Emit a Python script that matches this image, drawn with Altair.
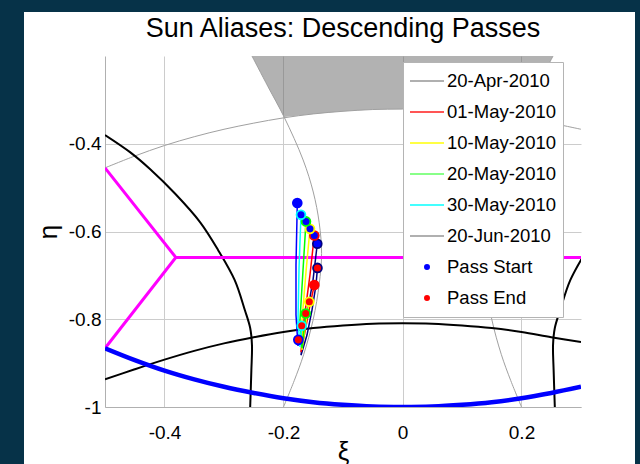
import altair as alt
import pandas as pd

TITLE = "Sun Aliases: Descending Passes"
FONT = "Liberation Sans"

# Axis frame (direction cosines xi / eta)
XI_DOMAIN = [-0.5, 0.3]
ETA_DOMAIN = [-1.0, -0.2]
XI_TICKS = [-0.4, -0.2, 0, 0.2]
ETA_TICKS = [-1, -0.8, -0.6, -0.4]

# Earth limb (thick blue)
limb_xi = [-0.5, -0.45, -0.4, -0.35, -0.3, -0.25, -0.2, -0.15, -0.1, -0.05, 0.0,
           0.05, 0.1, 0.15, 0.2, 0.25, 0.3]
limb_eta = [-0.866, -0.893, -0.917, -0.937, -0.954, -0.968, -0.980, -0.989, -0.995, -0.999, -1.0,
            -0.999, -0.995, -0.989, -0.980, -0.968, -0.954]

# Lower alias boundary (black)
lower_xi = limb_xi
lower_eta = [-0.937, -0.914, -0.892, -0.872, -0.855, -0.841, -0.829, -0.820, -0.814, -0.810, -0.809,
             -0.810, -0.814, -0.820, -0.829, -0.841, -0.852]

# Upper thin grey boundary
upper_xi = limb_xi
upper_eta = [-0.455, -0.428, -0.404, -0.384, -0.367, -0.353, -0.341, -0.332, -0.326, -0.322, -0.321,
             -0.322, -0.326, -0.332, -0.341, -0.353, -0.367]

# Side alias boundaries (black)
left_arc_xi = [-0.500, -0.458, -0.424, -0.382, -0.340, -0.310, -0.282, -0.265, -0.256, -0.253, -0.254, -0.256]
left_arc_eta = [-0.380, -0.419, -0.458, -0.514, -0.579, -0.642, -0.711, -0.779, -0.820, -0.859, -0.916, -1.000]
right_arc_xi = [0.340, 0.310, 0.282, 0.265, 0.256, 0.253, 0.254, 0.256]
right_arc_eta = [-0.579, -0.642, -0.711, -0.779, -0.820, -0.859, -0.916, -1.000]

# Thin grey side boundaries
left_thin_xi = [-0.253, -0.226, -0.199, -0.167, -0.150, -0.140, -0.136, -0.140, -0.150, -0.166, -0.182, -0.200]
left_thin_eta = [-0.20, -0.27, -0.339, -0.437, -0.51, -0.58, -0.65, -0.72, -0.80, -0.88, -0.94, -1.00]
right_thin_xi = [0.253, 0.226, 0.199, 0.167, 0.150, 0.140, 0.136, 0.140, 0.150, 0.166, 0.182, 0.200]
right_thin_eta = left_thin_eta

# Shaded sky region at the top
shade_xi = [-0.253, -0.226, -0.199, -0.15, -0.1, -0.05, 0.0, 0.05, 0.1, 0.15, 0.199, 0.226, 0.253]
shade_eta = [-0.20, -0.27, -0.339, -0.332, -0.326, -0.322, -0.321, -0.322, -0.326, -0.332, -0.339, -0.27, -0.20]

# Field-of-view edges (magenta)
fov_chevron_xi = [-0.5, -0.381, -0.5]
fov_chevron_eta = [-0.455, -0.659, -0.866]
fov_flat_xi = [-0.381, 0.3]
fov_flat_eta = [-0.659, -0.659]

# Sun track per pass date
pass_dates = ["20-Apr-2010", "01-May-2010", "10-May-2010", "20-May-2010", "30-May-2010", "20-Jun-2010"]
pass_colors = ["#000080", "#ff0000", "#ffff00", "#00ff00", "#00ffff", "#0000ff"]
track_xi = [
    [-0.1432, -0.1504, -0.1622, -0.1706, -0.1605, -0.1521, -0.1454, -0.1429],
    [-0.1482, -0.1555, -0.1655, -0.1706, -0.1639, -0.1555, -0.1482],
    [-0.1555, -0.1622, -0.1689, -0.1689, -0.1639, -0.1566],
    [-0.1622, -0.1672, -0.1723, -0.1689, -0.1655, -0.1627],
    [-0.1706, -0.1739, -0.1756, -0.1723, -0.1694],
    [-0.1768, -0.1790, -0.1790, -0.1756, -0.1751],
]
track_eta = [
    [-0.628, -0.711, -0.802, -0.882, -0.836, -0.779, -0.722, -0.683],
    [-0.609, -0.699, -0.802, -0.875, -0.829, -0.768, -0.722],
    [-0.594, -0.692, -0.802, -0.870, -0.820, -0.760],
    [-0.577, -0.688, -0.802, -0.866, -0.825, -0.787],
    [-0.562, -0.683, -0.802, -0.863, -0.815],
    [-0.535, -0.677, -0.790, -0.861, -0.847],
]

# Legend entries
legend_labels = pass_dates + ["Pass Start", "Pass End"]
legend_stroke = ["#b0b0b0", "#ff5555", "#ffff44", "#88ff88", "#44ffff", "#b0b0b0", "#0000ff", "#ff0000"]
legend_shapes = ["stroke"] * 6 + ["circle", "circle"]
legend_sizes = [1156] * 6 + [16, 16]


def curve_frame(name, xi, eta):
    return pd.DataFrame({"curve": name, "step": list(range(len(xi))), "xi": xi, "eta": eta})


x_axis = alt.Axis(values=XI_TICKS, labelExpr="toString(datum.value)", title="ξ",
                  ticks=False, tickSize=0, labelPadding=16, labelFontSize=19,
                  titleFontSize=26, titlePadding=-4, labelFlush=False)
y_axis = alt.Axis(values=ETA_TICKS, labelExpr="toString(datum.value)", title="η",
                  ticks=False, tickSize=0, labelPadding=4, labelFontSize=19,
                  titleFontSize=26, titlePadding=7, labelFlush=False)
X = alt.X("xi:Q", scale=alt.Scale(domain=XI_DOMAIN, nice=False, zero=False), axis=x_axis)
Y = alt.Y("eta:Q", scale=alt.Scale(domain=ETA_DOMAIN, nice=False, zero=False), axis=y_axis)

layers = []

# Dark slide frame around the figure panel (pixel offsets from the plot origin)
frame_bands = [(-105, -81, -56, 408), (-105, 535, -56, -44), (530, 535, -56, 408)]
one_row = pd.DataFrame({"k": [0]})
for bx0, bx1, by0, by1 in frame_bands:
    layers.append(
        alt.Chart(one_row).mark_rect(color="#063248").encode(
            x=alt.value(bx0), x2=alt.value(bx1), y=alt.value(by0), y2=alt.value(by1)
        )
    )

shade = pd.DataFrame({"xi": shade_xi, "eta": shade_eta})
layers.append(
    alt.Chart(shade).mark_area(color="#666666", opacity=0.5, clip=True).encode(
        x=X, y=Y, y2=alt.Y2(datum=ETA_DOMAIN[1])
    )
)

thin = pd.concat([
    curve_frame("upper", upper_xi, upper_eta),
    curve_frame("left", left_thin_xi, left_thin_eta),
    curve_frame("right", right_thin_xi, right_thin_eta),
])
layers.append(
    alt.Chart(thin).mark_line(color="#a0a0a0", strokeWidth=1, clip=True, interpolate="catmull-rom").encode(
        x=X, y=Y, detail="curve:N", order="step:Q"
    )
)

black = pd.concat([
    curve_frame("lower", lower_xi, lower_eta),
    curve_frame("left", left_arc_xi, left_arc_eta),
    curve_frame("right", right_arc_xi, right_arc_eta),
])
layers.append(
    alt.Chart(black).mark_line(color="#000000", strokeWidth=2, clip=True, interpolate="catmull-rom").encode(
        x=X, y=Y, detail="curve:N", order="step:Q"
    )
)

fov = pd.concat([
    curve_frame("chevron", fov_chevron_xi, fov_chevron_eta),
    curve_frame("flat", fov_flat_xi, fov_flat_eta),
])
layers.append(
    alt.Chart(fov).mark_line(color="#ff00ff", strokeWidth=3, clip=True).encode(
        x=X, y=Y, detail="curve:N", order="step:Q"
    )
)

limb = curve_frame("limb", limb_xi, limb_eta)
layers.append(
    alt.Chart(limb).mark_line(color="#0000ff", strokeWidth=4.5, clip=True, interpolate="catmull-rom").encode(
        x=X, y=Y, order="step:Q"
    )
)

# Sun tracks
track_rows = []
start_rows = []
end_rows = []
for date, xs, ys in zip(pass_dates, track_xi, track_eta):
    for i, (a, b) in enumerate(zip(xs, ys)):
        track_rows.append({"date": date, "step": i, "xi": a, "eta": b})
    start_rows.append({"date": date, "xi": xs[0], "eta": ys[0]})
    end_rows.append({"date": date, "xi": xs[-1], "eta": ys[-1]})

pass_color = alt.Color("date:N", scale=alt.Scale(domain=pass_dates, range=pass_colors), legend=None)
layers.append(
    alt.Chart(pd.DataFrame(track_rows)).mark_line(strokeWidth=1.5, clip=True).encode(
        x=X, y=Y, color=pass_color, order="step:Q"
    )
)
for rows, face in ((start_rows, "#0000ff"), (end_rows, "#ff0000")):
    layers.append(
        alt.Chart(pd.DataFrame(rows)).mark_point(filled=False, size=78, strokeWidth=1.8,
                                                 opacity=1, clip=True).encode(
            x=X, y=Y, color=pass_color, fill=alt.value(face)
        )
    )

# Legend carrier: entries only, no positions to draw
leg = alt.Legend(title=None, orient="none", legendX=298, legendY=6)
legend_df = pd.DataFrame({"label": legend_labels, "xi": [None] * 8, "eta": [None] * 8})
layers.append(
    alt.Chart(legend_df).mark_point(filled=True, opacity=1).encode(
        x=X, y=Y,
        fill=alt.Fill("label:N", scale=alt.Scale(domain=legend_labels, range=legend_stroke), legend=leg),
        stroke=alt.Stroke("label:N", scale=alt.Scale(domain=legend_labels, range=legend_stroke), legend=leg),
        shape=alt.Shape("label:N", scale=alt.Scale(domain=legend_labels, range=legend_shapes), legend=leg),
        size=alt.Size("label:N", scale=alt.Scale(type="ordinal", domain=legend_labels, range=legend_sizes), legend=leg),
    )
)

chart = (
    alt.layer(*layers)
    .properties(
        width=476, height=351,
        title=alt.TitleParams(TITLE, fontSize=27, font=FONT, fontWeight="normal",
                              color="#000000", anchor="middle", frame="group",
                              baseline="alphabetic", offset=0, dy=64),
        autosize=alt.AutoSizeParams(type="none"),
        padding={"left": 105, "top": 56, "right": 59, "bottom": 57},
        background="#ffffff",
    )
    .configure(font=FONT)
    .configure_view(stroke=None)
    .configure_axis(
        domainColor="#b0b0b0", gridColor="#cccccc", gridWidth=1, labelColor="#000000",
        titleColor="#000000", titleFontWeight="normal", labelFont=FONT, titleFont=FONT,
    )
    .configure_legend(
        padding=6, rowPadding=5, clipHeight=26, symbolOffset=0, labelOffset=2,
        strokeColor="#b4b4b4", fillColor="#ffffff", labelFontSize=18.5, labelFont=FONT,
        labelColor="#000000", symbolStrokeWidth=2, labelLimit=300, cornerRadius=0,
    )
)

chart.save("out.html", embed_options={"renderer": "svg", "actions": False})
